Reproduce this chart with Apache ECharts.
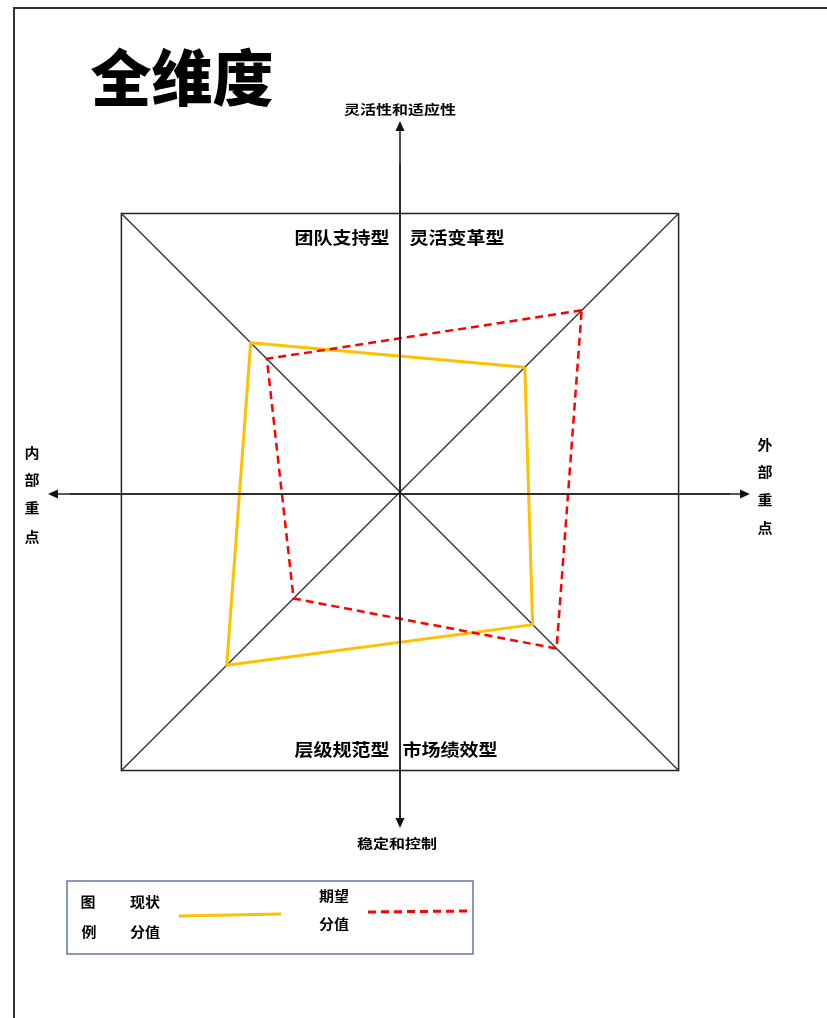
<!DOCTYPE html>
<html>
<head>
<meta charset="utf-8">
<script src="https://cdn.jsdelivr.net/npm/echarts@6/dist/echarts.min.js"></script>
<style>
  html, body { margin: 0; padding: 0; background: #fff; }
  #main { width: 827px; height: 1018px; }
</style>
</head>
<body>
<div id="main"></div>
<script>
// quadrant types, counter-clockwise from the top-right diagonal
var quadrants = ["灵活变革型", "团队支持型", "层级规范型", "市场绩效型"];
var maxScore = 50;
var currentScores = [22.4, 26.8, 31.1, 23.8];   // 现状分值
var expectScores = [32.6, 23.9, 19.1, 28.1];    // 期望分值

var font = '"Noto Sans CJK SC", "Noto Sans", sans-serif';
var cx = 400, cy = 492;

function txt(text, x, y, size, sy, weight) {
  return {
    type: "text", x: x, y: y, z: 10, scaleY: sy || 1,
    style: { text: text, font: (weight || "bold") + " " + size + "px " + font, fill: "#000",
      align: "center", verticalAlign: "middle" }
  };
}
function vtxt(chars, x, ys) {
  return chars.split("").map(function (c, i) { return txt(c, x, ys[i], 15, 0.9); });
}
function arrow(x1, y1, x2, y2) {
  var ang = Math.atan2(y2 - y1, x2 - x1);
  var L = 10, W = 4.5;
  var bx = x2 - L * Math.cos(ang), by = y2 - L * Math.sin(ang);
  return [
    { type: "line", z: 5, shape: { x1: x1, y1: y1, x2: bx, y2: by },
      style: { stroke: "#222", lineWidth: 1.6 } },
    { type: "polygon", z: 5, shape: { points: [[x2, y2],
        [bx + W * Math.sin(ang), by - W * Math.cos(ang)],
        [bx - W * Math.sin(ang), by + W * Math.cos(ang)]] },
      style: { fill: "#111" } }
  ];
}

var chart = echarts.init(document.getElementById("main"));

var graphics = [
  { type: "rect", shape: { x: 14, y: 8, width: 830, height: 1030 },
    style: { fill: null, stroke: "#333", lineWidth: 2 } },
  txt("全维度", 182, 78, 61, 1, "900"),
  txt("灵活性和适应性", 400, 109, 16, 0.8),
  txt("稳定和控制", 397, 843, 16, 0.8),
  txt("团队支持型", 342, 238, 19, 0.9),
  txt("灵活变革型", 457, 238, 19, 0.9),
  txt("层级规范型", 342, 750, 19, 0.9),
  txt("市场绩效型", 450, 750, 19, 0.9),
  // legend box
  { type: "rect", z: 4, shape: { x: 67, y: 881, width: 406, height: 73 },
    style: { fill: "#fff", stroke: "#6178a6", lineWidth: 1.5 } },
  txt("图", 88, 902, 15, 0.9), txt("例", 89, 932, 15, 0.9),
  txt("现状", 145, 902, 15, 0.9), txt("分值", 145, 932, 15, 0.9),
  { type: "line", z: 5, shape: { x1: 179, y1: 916, x2: 281, y2: 914 },
    style: { stroke: "#FFC000", lineWidth: 3 } },
  txt("期望", 334, 896, 15, 0.9), txt("分值", 334, 924, 15, 0.9),
  { type: "line", z: 5, shape: { x1: 368, y1: 912, x2: 470, y2: 911 },
    style: { stroke: "#FF0000", lineWidth: 3, lineDash: [8, 5] } }
]
  .concat(arrow(cx, 820, cx, 121))
  .concat(arrow(cx, 164, cx, 828))
  .concat(arrow(730, 494, 48, 494))
  .concat(arrow(70, 494, 750, 494))
  .concat(vtxt("内部重点", 32, [453, 480, 508, 537]))
  .concat(vtxt("外部重点", 765, [445, 472, 500, 528]));

var option = {
  animation: false,
  backgroundColor: "#fff",
  radar: {
    center: [cx, cy],
    radius: 394,
    startAngle: 45,
    shape: "polygon",
    splitNumber: 1,
    indicator: quadrants.map(function (q) { return { name: q, max: maxScore }; }),
    axisName: { show: false },
    axisLine: { lineStyle: { color: "#333", width: 1.4 } },
    splitLine: { lineStyle: { color: "#222", width: 1.5 } },
    splitArea: { show: false },
    axisTick: { show: false },
    axisLabel: { show: false }
  },
  series: [{
    type: "radar",
    symbol: "none",
    data: [
      { name: "现状分值", value: currentScores,
        lineStyle: { color: "#FFC000", width: 3 } },
      { name: "期望分值", value: expectScores,
        lineStyle: { color: "#FF0000", width: 2.5, type: [8, 5] } }
    ]
  }],
  graphic: graphics
};
chart.setOption(option);
</script>
</body>
</html>
